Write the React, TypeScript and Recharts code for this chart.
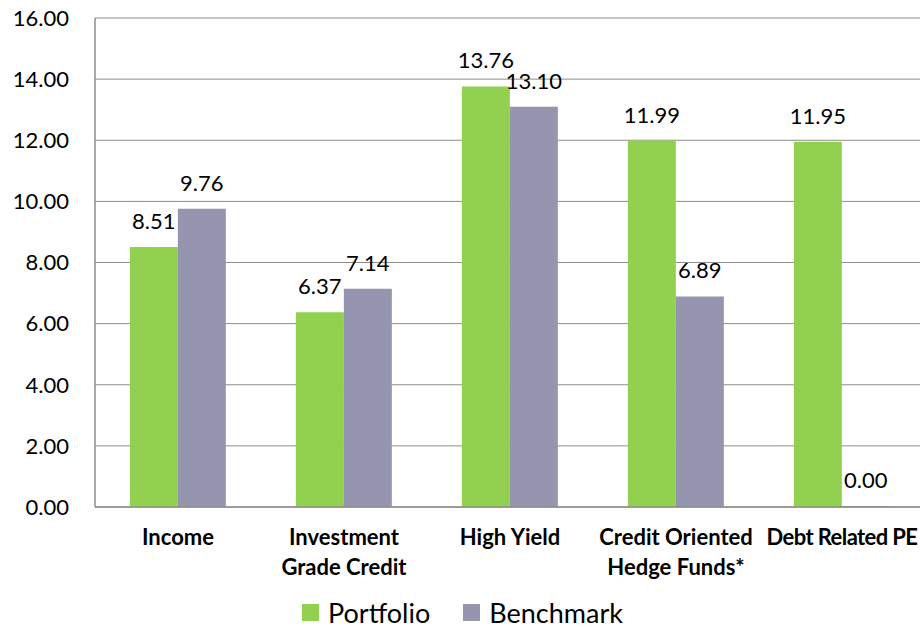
import { BarChart, Bar, XAxis, YAxis, CartesianGrid, Legend, LabelList } from 'recharts';

const categories = ['Income', 'Investment Grade Credit', 'High Yield', 'Credit Oriented Hedge Funds*', 'Debt Related PE'];
const categoryLines = [['Income'], ['Investment', 'Grade Credit'], ['High Yield'], ['Credit Oriented', 'Hedge Funds*'], ['Debt Related PE']];
const portfolio = [8.51, 6.37, 13.76, 11.99, 11.95];
const benchmark = [9.76, 7.14, 13.1, 6.89, 0.0];
const seriesNames = ['Portfolio', 'Benchmark'];
const yTicks = [0, 2, 4, 6, 8, 10, 12, 14, 16];

const data = categories.map((name, i) => ({ name, portfolio: portfolio[i], benchmark: benchmark[i] }));

const GREEN = '#92d050';
const GREY = '#9595b0';
const FONT = 'Lato, "DejaVu Sans", sans-serif';

function CategoryTick({ x, y, index }: any) {
  const lines = categoryLines[index] || [];
  // the last label sits at the right edge, tighten it a little so it fits
  const spacing = index === categoryLines.length - 1 ? -0.6 : 0;
  return (
    <text x={x} y={y} textAnchor="middle" fill="#000" fontSize={22} fontWeight={700} fontFamily={FONT}
      letterSpacing={spacing}>
      {lines.map((l, i) => (
        <tspan key={i} x={x} dy={i === 0 ? 38 : 30}>{l}</tspan>
      ))}
    </text>
  );
}

function LegendContent({ payload }: any) {
  const items = [...(payload || [])].sort((a: any, b: any) => seriesNames.indexOf(a.value) - seriesNames.indexOf(b.value));
  return (
    <div style={{ display: 'flex', alignItems: 'center', height: 50, paddingLeft: 302, paddingTop: 20, boxSizing: 'border-box' }}>
      {items.map((p: any, i: number) => (
        <div key={i} style={{ display: 'flex', alignItems: 'center', marginRight: 33 }}>
          <span style={{ display: 'inline-block', width: 17, height: 17, background: p.color, marginRight: 9 }} />
          <span style={{ fontSize: 27, color: '#000', lineHeight: 1 }}>{p.value}</span>
        </div>
      ))}
    </div>
  );
}

export default function App() {
  return (
    <div style={{ width: 920, height: 627, overflow: 'hidden', fontFamily: FONT, background: '#fff' }}>
      <style>{'body{margin:0}'}</style>
      <BarChart width={930} height={627} data={data} margin={{ top: 18, right: 5, left: 0, bottom: 0 }}
        barCategoryGap="21%" barGap={0}>
        <CartesianGrid vertical={false} stroke="#8c8c8c" strokeWidth={1} />
        <XAxis dataKey="name" height={70} tickLine={false} tickSize={0} tickMargin={0}
          axisLine={{ stroke: '#8c8c8c', strokeWidth: 1.5 }} tick={<CategoryTick />} interval={0} />
        <YAxis width={95} domain={[0, 16]} ticks={yTicks} tickFormatter={(v: number) => v.toFixed(2)}
          tickLine={false} tickSize={0} tickMargin={26} axisLine={{ stroke: '#8c8c8c', strokeWidth: 1.5 }}
          tick={{ fill: '#000', fontSize: 22, fontFamily: FONT }} />
        <Legend verticalAlign="bottom" height={50} content={<LegendContent />} />
        <Bar dataKey="portfolio" name="Portfolio" fill={GREEN} isAnimationActive={false}>
          <LabelList dataKey="portfolio" position="top" offset={18} fill="#000" fontSize={22} fontFamily={FONT}
            formatter={(v: any) => Number(v).toFixed(2)} />
        </Bar>
        <Bar dataKey="benchmark" name="Benchmark" fill={GREY} isAnimationActive={false}
          minPointSize={(v: number) => (v === 0 ? 1 : 0)}>
          <LabelList dataKey="benchmark" position="top" offset={18} fill="#000" fontSize={22} fontFamily={FONT}
            formatter={(v: any) => Number(v).toFixed(2)} />
        </Bar>
      </BarChart>
    </div>
  );
}
